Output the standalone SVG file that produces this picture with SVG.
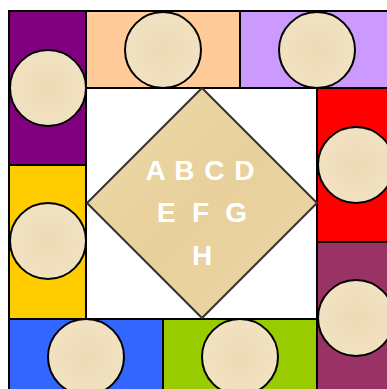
<svg xmlns="http://www.w3.org/2000/svg" width="387" height="389" viewBox="0 0 387 389">
<defs>
<radialGradient id="parch" cx="0.5" cy="0.5" r="0.6">
<stop offset="0" stop-color="#ecdab4"/>
<stop offset="1" stop-color="#f2e3c4"/>
</radialGradient>
<linearGradient id="pap" x1="0" y1="0" x2="1" y2="1">
<stop offset="0" stop-color="#eed9a8"/>
<stop offset="0.5" stop-color="#e8d09c"/>
<stop offset="1" stop-color="#ecd6a4"/>
</linearGradient>
</defs>
<style>
.tile{stroke:#000;stroke-width:2}
.disc{fill:url(#parch);stroke:#000;stroke-width:2}
.lbl{font-family:"Liberation Sans",Arial,sans-serif;font-weight:bold;font-size:28px;fill:#fff;text-anchor:middle}
</style>
<rect width="387" height="389" fill="#fff"/>
<g id="connectors"></g>
<g id="purple"><rect class="tile" x="9" y="11" width="77" height="154" fill="#800080"/><circle class="disc" cx="48" cy="88" r="38"/></g>
<g id="peach"><rect class="tile" x="86" y="11" width="154" height="77" fill="#ffcc99"/><circle class="disc" cx="163" cy="50" r="38"/></g>
<g id="lavender"><rect class="tile" x="240" y="11" width="154" height="77" fill="#cc99ff"/><circle class="disc" cx="317" cy="50" r="38"/></g>
<g id="red"><rect class="tile" x="317" y="88" width="77" height="154" fill="#ff0000"/><circle class="disc" cx="356" cy="165" r="38"/></g>
<g id="maroon"><rect class="tile" x="317" y="242" width="77" height="154" fill="#993366"/><circle class="disc" cx="356" cy="318" r="38"/></g>
<g id="yellow"><rect class="tile" x="9" y="165" width="77" height="154" fill="#ffcc00"/><circle class="disc" cx="48" cy="241" r="38"/></g>
<g id="blue"><rect class="tile" x="9" y="319" width="154" height="77" fill="#3366ff"/><circle class="disc" cx="86" cy="357" r="38"/></g>
<g id="green"><rect class="tile" x="163" y="319" width="154" height="77" fill="#99cc00"/><circle class="disc" cx="240" cy="357" r="38"/></g>
<g id="center">
<polygon points="202,88 317,203 202,318 87,203" fill="url(#pap)" stroke="#333" stroke-width="2"/>
<text class="lbl" x="200" y="180" word-spacing="2">A B C D</text>
<text class="lbl" x="202" y="222" word-spacing="8.5">E F G</text>
<text class="lbl" x="202" y="265">H</text>
</g>
</svg>
